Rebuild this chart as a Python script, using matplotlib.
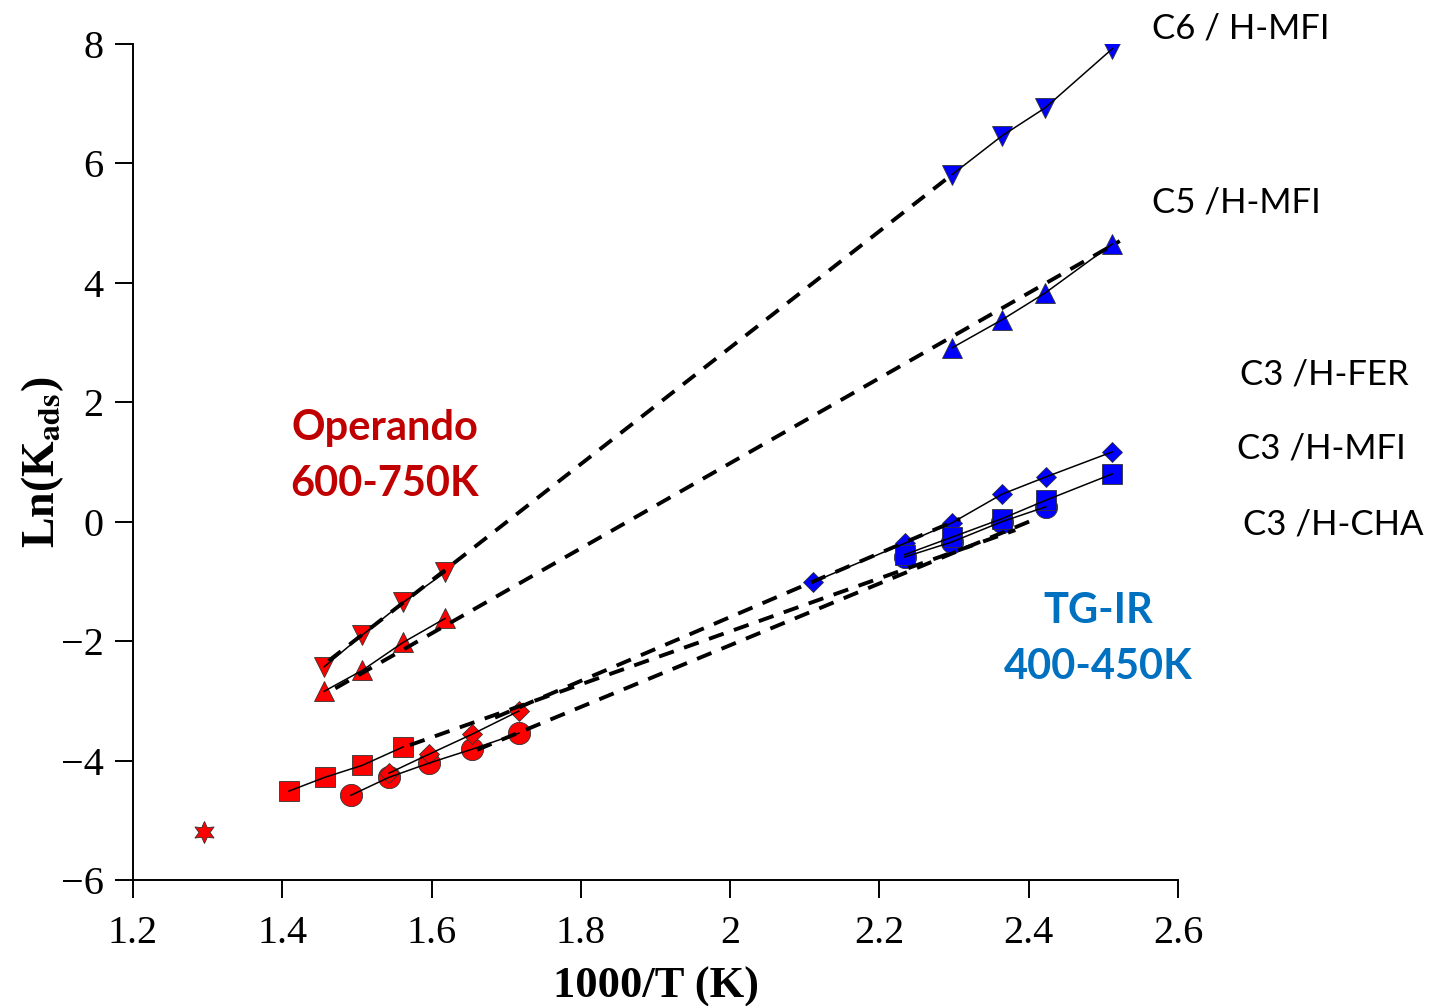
import numpy as np
import matplotlib
matplotlib.use('agg')
import matplotlib.pyplot as plt

plt.rcParams['mathtext.fontset'] = 'stix'

# ---- operando data (red), 600-750K ----
c6_op_x = [1.456, 1.507, 1.562, 1.618]
c6_op_y = [-2.43, -1.90, -1.35, -0.85]
c5_op_x = [1.456, 1.507, 1.562, 1.618]
c5_op_y = [-2.84, -2.49, -2.02, -1.62]
c3mfi_op_x = [1.409, 1.457, 1.507, 1.562]
c3mfi_op_y = [-4.51, -4.28, -4.08, -3.77]
c3cha_op_x = [1.492, 1.543, 1.597, 1.654, 1.717]
c3cha_op_y = [-4.58, -4.28, -4.04, -3.81, -3.54]
c3fer_op_x = [1.543, 1.597, 1.654, 1.717]
c3fer_op_y = [-4.21, -3.89, -3.56, -3.17]
star_x = [1.295]
star_y = [-5.20]

# ---- TG-IR data (blue), 400-450K ----
c6_tg_x = [2.297, 2.364, 2.422, 2.512]
c6_tg_y = [5.81, 6.46, 6.93, 7.92]
c5_tg_x = [2.297, 2.364, 2.422, 2.512]
c5_tg_y = [2.91, 3.38, 3.83, 4.65]
c3fer_tg_x = [2.111, 2.234, 2.297, 2.364, 2.423, 2.512]
c3fer_tg_y = [-1.01, -0.36, -0.02, 0.46, 0.75, 1.17]
c3mfi_tg_x = [2.234, 2.297, 2.364, 2.423, 2.512]
c3mfi_tg_y = [-0.55, -0.26, 0.05, 0.36, 0.80]
c3cha_tg_x = [2.234, 2.297, 2.364, 2.423]
c3cha_tg_y = [-0.59, -0.34, 0.00, 0.25]

# ---- dashed fit lines (end points) ----
fit_c6_x, fit_c6_y = [1.462, 2.300], [-2.33, 5.84]
fit_c5_x, fit_c5_y = [1.471, 2.522], [-2.79, 4.70]
fit_fer_x, fit_fer_y = [1.685, 2.308], [-3.28, 0.05]
fit_mfi_x, fit_mfi_y = [1.571, 2.382], [-3.74, -0.14]
fit_cha_x, fit_cha_y = [1.661, 2.402], [-3.82, 0.01]

xticks = [1.2, 1.4, 1.6, 1.8, 2.0, 2.2, 2.4, 2.6]
xtick_labels = ['1.2', '1.4', '1.6', '1.8', '2', '2.2', '2.4', '2.6']
yticks = [-6, -4, -2, 0, 2, 4, 6, 8]

red = '#FF0000'
blue = '#0000FF'

fig = plt.figure(figsize=(14.3, 10.06), dpi=100)
ax = fig.add_axes([0.093, 0.1252, 0.7308, 0.8311])

def series(x, y, marker, color, ms):
    ax.plot(x, y, linestyle='none', marker=marker, ms=ms, mfc=color,
            mec='#333333', mew=0.6, zorder=2)
    ax.plot(x, y, color='black', lw=1.1, zorder=3)

series(c6_op_x, c6_op_y, 'v', red, 14)
series(c5_op_x, c5_op_y, '^', red, 14)
series(c3mfi_op_x, c3mfi_op_y, 's', red, 15)
series(c3cha_op_x, c3cha_op_y, 'o', red, 16)
series(c3fer_op_x, c3fer_op_y, 'D', red, 10)
ax.plot(star_x, star_y, linestyle='none', marker=(6, 1, 0), ms=16, mfc=red,
        mec='#333333', mew=0.6, zorder=2)

series(c6_tg_x, c6_tg_y, 'v', blue, 14)
series(c5_tg_x, c5_tg_y, '^', blue, 14)
series(c3fer_tg_x, c3fer_tg_y, 'D', blue, 10)
series(c3cha_tg_x, c3cha_tg_y, 'o', blue, 16)
series(c3mfi_tg_x, c3mfi_tg_y, 's', blue, 15)

for fx, fy in [(fit_c6_x, fit_c6_y), (fit_c5_x, fit_c5_y), (fit_fer_x, fit_fer_y),
               (fit_mfi_x, fit_mfi_y), (fit_cha_x, fit_cha_y)]:
    ax.plot(fx, fy, color='black', lw=2.8, dashes=(4.0, 2.8), zorder=4)

ax.set_xlim(1.2, 2.6)
ax.set_ylim(-6, 8)
ax.set_xticks(xticks)
ax.set_xticklabels(xtick_labels)
ax.set_yticks(yticks)
ax.set_yticklabels([str(v).replace('-', '\u2212') for v in yticks])
ax.spines['top'].set_visible(False)
ax.spines['right'].set_visible(False)
ax.spines['left'].set_linewidth(1.4)
ax.spines['bottom'].set_linewidth(1.4)
ax.tick_params(direction='out', length=13, width=1.4, labelsize=29)
ax.tick_params(axis='x', pad=12)
ax.tick_params(axis='y', pad=8)
for lab in ax.get_xticklabels() + ax.get_yticklabels():
    lab.set_fontfamily('Liberation Serif')

ax.set_xlabel('1000/T (K)', fontsize=32, fontweight='bold', family='Liberation Serif', labelpad=11)
ax.set_ylabel(r'Ln(K$_{\mathbf{ads}}$)', fontsize=33, fontweight='bold', family='Liberation Serif', labelpad=-4)

lab_font = dict(fontsize=25, family='Lato', va='center', ha='left')
fig.text(1152 / 1430, 1 - 28 / 1006, 'C6 / H-MFI', **lab_font)
fig.text(1152 / 1430, 1 - 203 / 1006, 'C5 /H-MFI', **lab_font)
fig.text(1240 / 1430, 1 - 375 / 1006, 'C3 /H-FER', **lab_font)
fig.text(1237 / 1430, 1 - 448 / 1006, 'C3 /H-MFI', **lab_font)
fig.text(1243 / 1430, 1 - 525 / 1006, 'C3 /H-CHA', **lab_font)

fig.text(385 / 1430, 1 - 456 / 1006, 'Operando\n600-750K', fontsize=30, family='Lato',
         fontweight='bold', color='#C00000', ha='center', va='center', linespacing=1.6)
fig.text(1098 / 1430, 1 - 639 / 1006, 'TG-IR\n400-450K', fontsize=30, family='Lato',
         fontweight='bold', color='#0070C0', ha='center', va='center', linespacing=1.6)

fig.savefig('out.png', dpi=100)
